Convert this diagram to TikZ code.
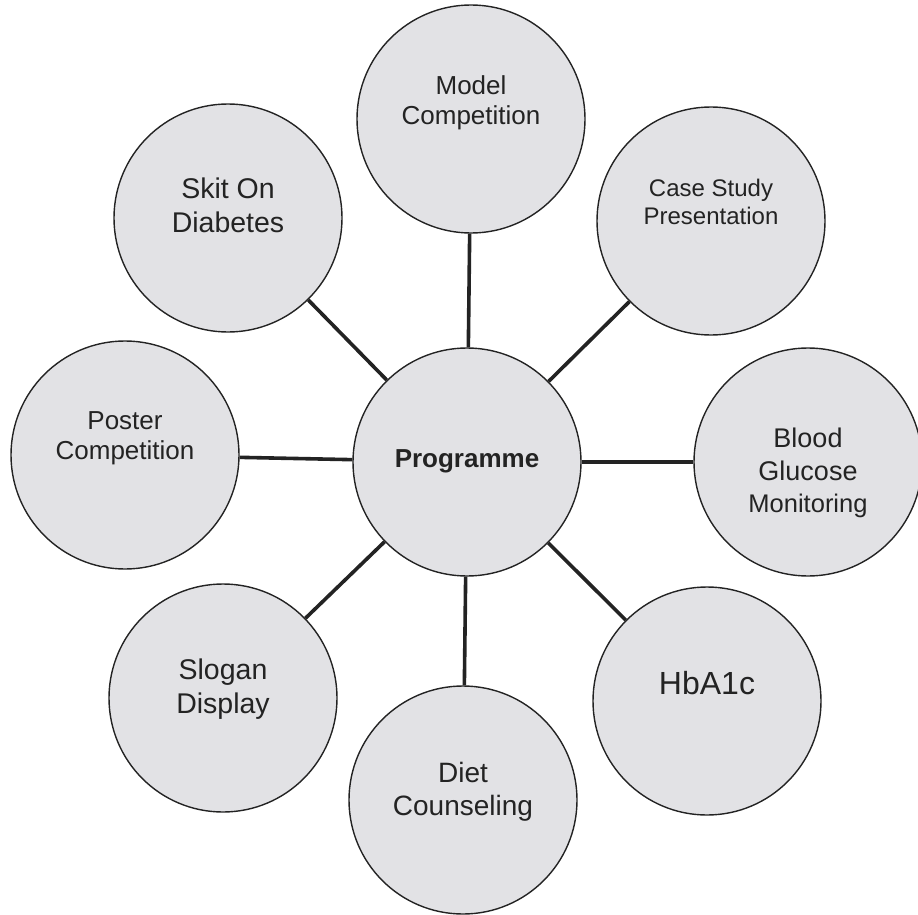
\documentclass[tikz,border=0pt]{standalone}
\usepackage{fontspec}
\setmainfont{Liberation Sans}
\definecolor{bubble}{RGB}{226,226,229}
\definecolor{ink}{RGB}{35,35,35}
\begin{document}
\begin{tikzpicture}[x=1pt,y=-1pt,
  bub/.style={circle,draw=ink,line width=1.4pt,fill=bubble,minimum size=228pt,inner sep=0pt},
  lbl/.style={align=center,text=ink,inner sep=0pt},
  conn/.style={draw=ink,line width=3.6pt}]
\useasboundingbox (0,0) rectangle (918,915);
\node[bub] (prog) at (467,462) {};
\node[bub] (model) at (471,119) {};
\node[bub] (case) at (711,221) {};
\node[bub] (blood) at (808,462) {};
\node[bub] (hba) at (707,701) {};
\node[bub] (diet) at (463,800) {};
\node[bub] (slogan) at (223,698) {};
\node[bub] (poster) at (125,455) {};
\node[bub] (skit) at (228,218) {};
\foreach \n in {model,case,blood,hba,diet,slogan,poster,skit}
  \draw[conn] (prog) -- (\n);
\node[lbl,font=\fontsize{26}{30}\selectfont\bfseries] (tprog) at (467,461) {Programme};
\node[lbl,font=\fontsize{26}{30}\selectfont] (tmodel) at (471,103) {Model\\Competition};
\node[lbl,font=\fontsize{24}{28}\selectfont] (tcase) at (711,202) {Case Study\\Presentation};
\node[lbl,font=\fontsize{27}{32.5}\selectfont] (tblood) at (808,473) {Blood\\Glucose\\{\fontsize{25.5}{30}\selectfont Monitoring}};
\node[lbl,font=\fontsize{32}{36}\selectfont] (thba) at (707,683) {HbA1c};
\node[lbl,font=\fontsize{28}{33}\selectfont] (tdiet) at (463,792) {Diet\\Counseling};
\node[lbl,font=\fontsize{28.5}{34}\selectfont] (tslogan) at (223,689) {Slogan\\Display};
\node[lbl,font=\fontsize{26}{30}\selectfont] (tposter) at (125,438) {Poster\\Competition};
\node[lbl,font=\fontsize{28.5}{34}\selectfont] (tskit) at (228,205) {Skit On\\Diabetes};
\end{tikzpicture}
\end{document}
